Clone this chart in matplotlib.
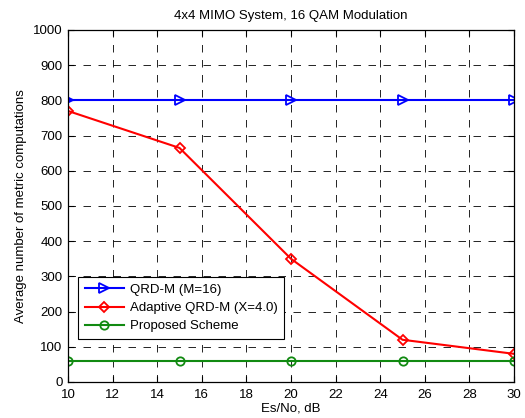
import matplotlib
matplotlib.use("Agg")
import matplotlib.pyplot as plt

snr = [10, 15, 20, 25, 30]
qrdm = [800, 800, 800, 800, 800]
adaptive = [770, 665, 350, 120, 80]
proposed = [60, 60, 60, 60, 60]

plt.rcParams['font.family'] = ['Liberation Sans', 'DejaVu Sans']
plt.rcParams['lines.scale_dashes'] = False
fs = 9.5
fig = plt.figure(figsize=(5.25, 4.18), dpi=100)
ax = fig.add_axes([68/525, 1-382/418, 446/525, 352/418])

ax.plot(snr, qrdm, color='blue', marker='>', mfc='none', ms=7.5, mew=1.3, lw=1.5, label='QRD-M (M=16)')
ax.plot(snr, adaptive, color='red', marker='D', mfc='none', ms=5.5, mew=1.3, lw=1.5, label='Adaptive QRD-M (X=4.0)')
ax.plot(snr, proposed, color='#118a11', marker='o', mfc='none', ms=6, mew=1.3, lw=1.5, label='Proposed Scheme')

ax.set_xlim(10, 30)
ax.set_ylim(0, 1000)
ax.set_xticks(range(10, 31, 2))
ax.set_yticks(range(0, 1001, 100))
ax.tick_params(direction='in', labelsize=fs, length=4, top=True, right=True)
ax.tick_params(axis='x', pad=5)
ax.tick_params(axis='y', pad=4)
ax.grid(True, color='black', linestyle=(0, (5.4, 5.4)), linewidth=0.6)
for s in ax.spines.values():
    s.set_linewidth(0.9)
ax.set_xlabel('Es/No, dB', fontsize=fs, labelpad=1)
ax.set_ylabel('Average number of metric computations', fontsize=fs, labelpad=4)
ax.set_title('4x4 MIMO System, 16 QAM Modulation', fontsize=fs, pad=8)
leg = ax.legend(loc='lower left', bbox_to_anchor=(0.0224, 0.122), fontsize=fs, frameon=True,
                fancybox=False, edgecolor='black', borderpad=0.5, labelspacing=0.45,
                handlelength=3.0, handletextpad=0.45, borderaxespad=0, numpoints=1,
                framealpha=1)
leg.get_frame().set_linewidth(0.8)
fig.savefig('out.png', dpi=100)
